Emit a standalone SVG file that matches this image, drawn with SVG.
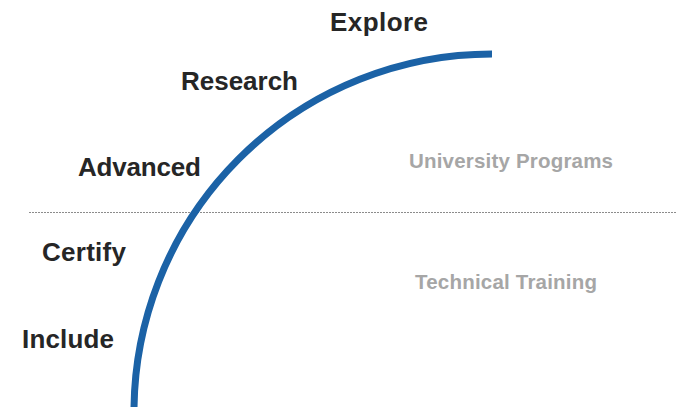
<svg xmlns="http://www.w3.org/2000/svg" width="677" height="407" viewBox="0 0 677 407">
  <style>
    .stage { font-family: "Liberation Sans", Arial, sans-serif; font-weight: bold; font-size: 26px; fill: #262626; }
    .area { font-family: "Liberation Sans", Arial, sans-serif; font-weight: bold; font-size: 20.5px; fill: #a6a6a6; }
    .divider { stroke: #8c8c8c; stroke-width: 1; stroke-dasharray: 2 1; fill: none; }
    .curve { stroke: #1b62a6; stroke-width: 7; fill: none; }
  </style>
  <rect width="677" height="407" fill="#ffffff"/>
  <g id="connectors">
    <line class="divider" x1="29" y1="212.5" x2="677" y2="212.5"/>
    <path class="curve" d="M134,414 A358,358 0 0 1 492,54"/>
  </g>
  <g id="explore"><text class="stage" x="330" y="31" textLength="98">Explore</text></g>
  <g id="research"><text class="stage" x="181" y="90" textLength="117">Research</text></g>
  <g id="advanced"><text class="stage" x="78" y="176" textLength="123">Advanced</text></g>
  <g id="certify"><text class="stage" x="42" y="261" textLength="84">Certify</text></g>
  <g id="include"><text class="stage" x="22" y="348" textLength="92">Include</text></g>
  <g id="university-programs"><text class="area" x="409" y="168" textLength="204">University Programs</text></g>
  <g id="technical-training"><text class="area" x="415" y="289" textLength="182">Technical Training</text></g>
</svg>
